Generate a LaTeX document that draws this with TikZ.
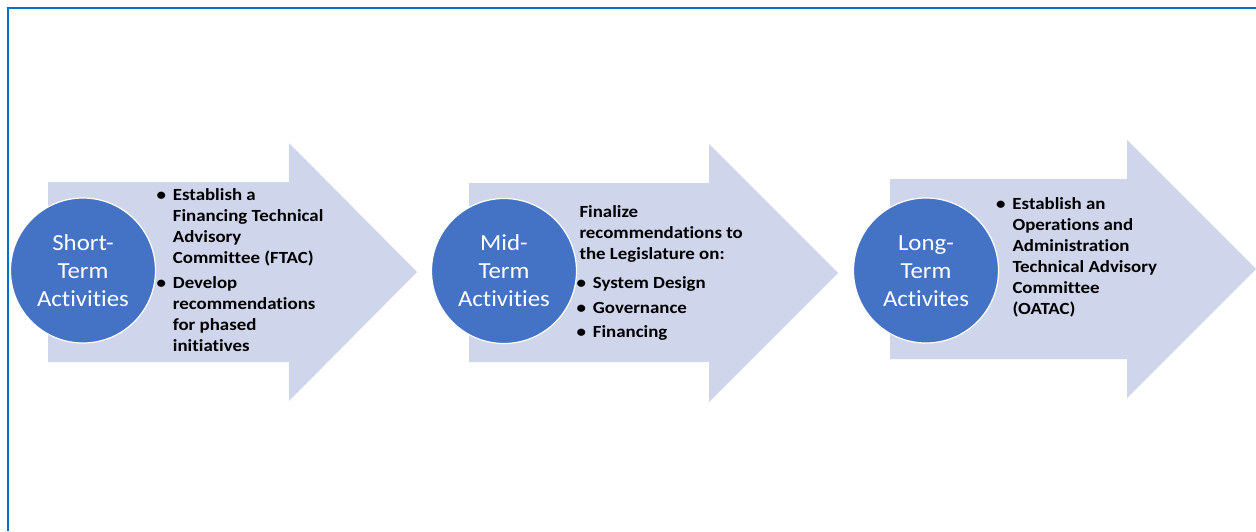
\documentclass[tikz,border=0pt]{standalone}
\usepackage{fontspec}
\setmainfont{Carlito}[FakeStretch=1.11, Ligatures=NoCommon]
\newfontfamily\circfont{Carlito}[FakeStretch=1.08, Ligatures=NoCommon]
\definecolor{arrowfill}{HTML}{CFD5EA}
\definecolor{circfill}{HTML}{4472C4}
\definecolor{frameblue}{HTML}{0072C6}
\newcommand\mybullet{\llap{\textbullet\hspace{7pt}}}
\begin{document}
\begin{tikzpicture}[x=1pt,y=-1pt,
  arrowshape/.style={fill=arrowfill, draw=none},
  phase/.style={circle, fill=circfill, draw=white, line width=1.2pt, minimum size=145pt, inner sep=0pt},
  phasetext/.style={text=white, inner sep=0pt, anchor=base, font=\circfont\fontsize{23}{28}\selectfont},
  bodytext/.style={inner sep=0pt, anchor=base west, text=black, font=\fontsize{17}{21}\selectfont\bfseries}]
\useasboundingbox (0,0) rectangle (1256,531);
\fill[white] (0,0) rectangle (1256,531);
% frame
\draw[frameblue, line width=2pt] (8,531) -- (8,7.5) -- (1256,7.5);
% arrows
\fill[arrowshape] (48,182) -- (289,182) -- (289,143) -- (417,272) -- (289,401) -- (289,362) -- (48,362) -- cycle;
\fill[arrowshape] (469,183) -- (709,183) -- (709,144) -- (838,273) -- (709,402) -- (709,362) -- (469,362) -- cycle;
\fill[arrowshape] (890,179) -- (1127,179) -- (1127,140) -- (1256,269) -- (1127,398) -- (1127,359) -- (890,359) -- cycle;
% circles
\node[phase] (c1) at (83,270.5) {};
\node[phase] (c2) at (504,271) {};
\node[phase] (c3) at (926,270.5) {};
\node[phasetext] (t1) at (83,250.7) {\begin{tabular}[t]{@{}c@{}}Short-\\Term\\Activities\end{tabular}};
\node[phasetext] (t2) at (504,250.7) {\begin{tabular}[t]{@{}c@{}}Mid-\\Term\\Activities\end{tabular}};
\node[phasetext] (t3) at (926,250.7) {\begin{tabular}[t]{@{}c@{}}Long-\\Term\\Activites\end{tabular}};
% body texts
\node[bodytext] (b1) at (172.7,200.7) {\begin{tabular}[t]{@{}l@{}}\mybullet Establish a\\Financing Technical\\Advisory\\Committee (FTAC)\\[4pt]\mybullet Develop\\recommendations\\for phased\\initiatives\end{tabular}};
\node[bodytext] (b2) at (579.3,217.7) {\begin{tabular}[t]{@{}l@{}}Finalize\\recommendations to\\the Legislature on:\\[8pt]\hspace{13.4pt}\mybullet System Design\\[4pt]\hspace{13.4pt}\mybullet Governance\\[3pt]\hspace{13.4pt}\mybullet Financing\end{tabular}};
\node[bodytext] (b3) at (1012.3,209) {\begin{tabular}[t]{@{}l@{}}\mybullet Establish an\\Operations and\\Administration\\Technical Advisory\\Committee\\(OATAC)\end{tabular}};
\end{tikzpicture}
\end{document}
